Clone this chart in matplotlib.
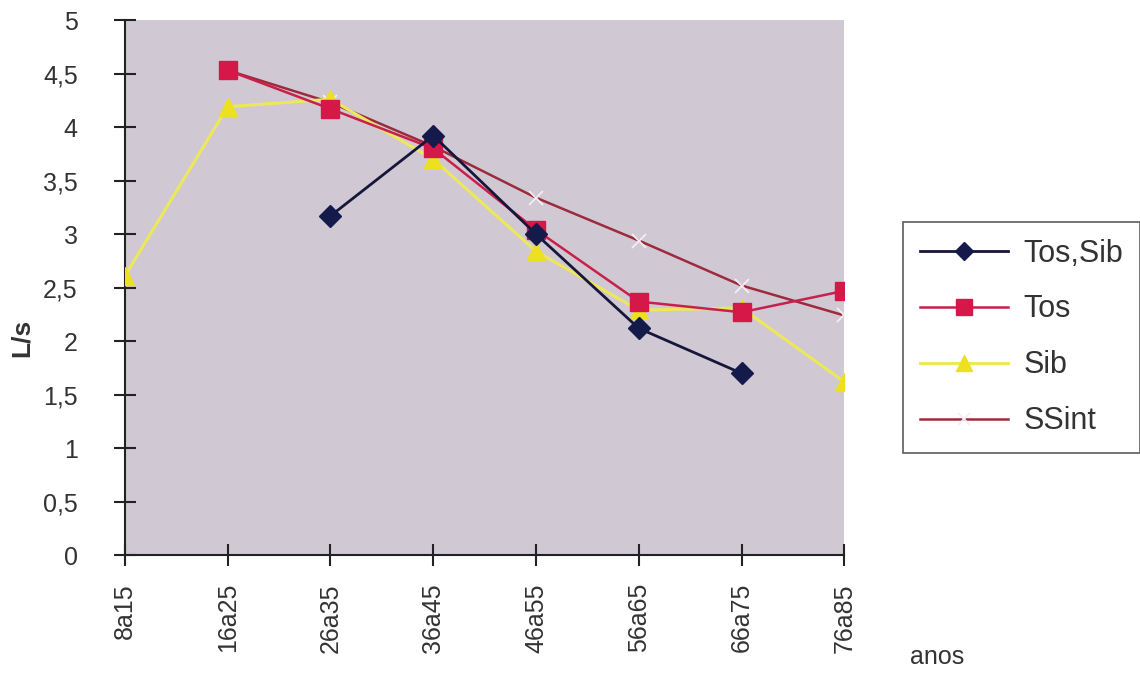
import matplotlib.pyplot as plt
from matplotlib.ticker import FuncFormatter
import numpy as np

plt.rcParams['font.family'] = ['Liberation Sans', 'DejaVu Sans']

# Dados
faixas = ["8a15", "16a25", "26a35", "36a45", "46a55", "56a65", "66a75", "76a85"]
tos_sib = [np.nan, np.nan, 3.17, 3.92, 3.00, 2.12, 1.70, np.nan]
tos = [np.nan, 4.53, 4.17, 3.80, 3.04, 2.37, 2.27, 2.47]
sib = [2.61, 4.19, 4.26, 3.70, 2.84, 2.29, 2.31, 1.62]
ssint = [np.nan, 4.53, 4.23, 3.82, 3.34, 2.94, 2.52, 2.24]

x = np.arange(len(faixas))

fig = plt.figure(figsize=(11.4, 6.78), dpi=100)
ax = fig.add_axes([0.1096, 0.181, 0.631, 0.7895])
ax.set_facecolor("#d0c9d4")

ax.plot(x, ssint, color="#9c2b3c", lw=1.8, marker="x", ms=10, mew=1.3,
        mec="#f4eef2", label="SSint", zorder=2)
ax.plot(x, sib, color="#ece85a", lw=2.2, marker="^", ms=13,
        mfc="#ece020", mec="#ece020", label="Sib", zorder=3)
ax.plot(x, tos, color="#c8204a", lw=1.8, marker="s", ms=13,
        mfc="#d61848", mec="#d61848", label="Tos", zorder=4)
ax.plot(x, tos_sib, color="#16163a", lw=2.0, marker="D", ms=11,
        mfc="#141a4a", mec="#141a4a", label="Tos,Sib", zorder=5)

ax.set_xlim(0, 7)
ax.set_ylim(0, 5)
ax.set_xticks(x)
ax.set_xticklabels(faixas, rotation=90, fontsize=18)
ax.set_yticks(np.arange(0, 5.01, 0.5))
ax.yaxis.set_major_formatter(FuncFormatter(lambda v, p: f"{v:g}".replace(".", ",")))
ax.tick_params(axis="y", direction="inout", length=16, width=1.5, labelsize=18,
               pad=26, colors="#222222", labelcolor="#333333")
ax.tick_params(axis="x", direction="inout", length=16, width=1.5, pad=12,
               colors="#222222", labelcolor="#333333")

for s in ["top", "right"]:
    ax.spines[s].set_visible(False)
for s in ["left", "bottom"]:
    ax.spines[s].set_linewidth(1.5)
    ax.spines[s].set_color("#222222")

# eixo y: etiqueta um pouco abaixo do centro, como no original
fig.text(0.0195, 0.502, "L/s", fontsize=19, fontweight="bold", rotation=90,
         ha="center", va="center", color="#333333")
fig.text(0.822, 0.031, "anos", fontsize=18, ha="center", va="center", color="#333333")

handles, labels = ax.get_legend_handles_labels()
ordem = [3, 2, 1, 0]
leg = fig.legend([handles[i] for i in ordem], [labels[i] for i in ordem],
                 loc="upper left", bbox_to_anchor=(0.792, 0.673),
                 fontsize=22, handlelength=2.9, labelspacing=0.85,
                 frameon=True, fancybox=False, borderpad=0.55,
                 handletextpad=0.5, borderaxespad=0, markerscale=0.85)
for t in leg.get_texts():
    t.set_color("#333333")
leg.get_frame().set_edgecolor("#333333")
leg.get_frame().set_linewidth(1.2)

fig.savefig("out.png", dpi=100)
